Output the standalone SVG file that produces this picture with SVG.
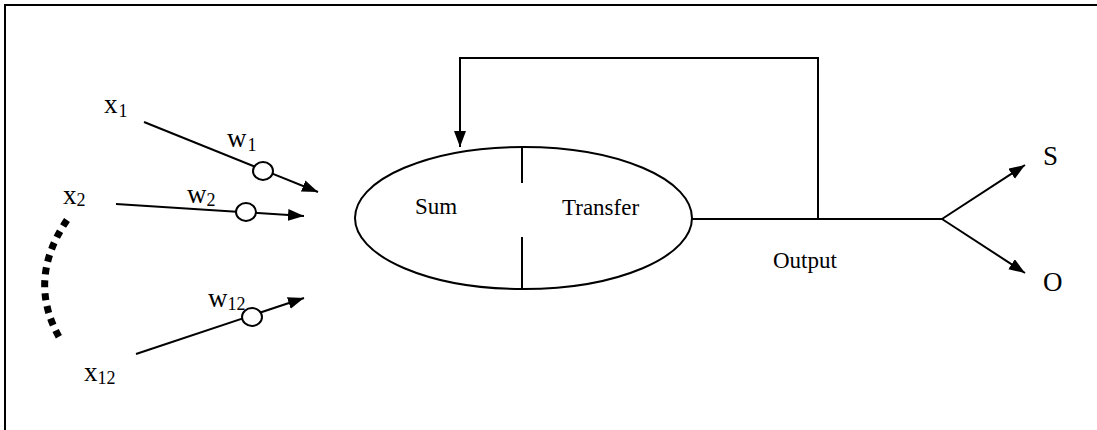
<svg xmlns="http://www.w3.org/2000/svg" width="1097" height="430" viewBox="0 0 1097 430">
<style>
.ln{fill:none;stroke:#000;stroke-width:2}
.t{font-family:"Liberation Serif","Times New Roman",serif;fill:#000}
.lab{font-size:27px}
.sub{font-size:18px}
.in{font-size:23px}
.big{font-size:27px}
.w{fill:#fff;stroke:#000;stroke-width:2}
</style>
<defs>
<marker id="ah" markerUnits="userSpaceOnUse" markerWidth="18" markerHeight="14" refX="16" refY="6" orient="auto">
<path d="M0,0 L16,6 L0,12 z" fill="#000"/>
</marker>
</defs>
<rect width="1097" height="430" fill="#fff"/>
<path class="ln" d="M5,430 V5 H1097"/>
<g id="connectors">
<line class="ln" x1="144" y1="122" x2="318" y2="192" marker-end="url(#ah)"/>
<line class="ln" x1="116" y1="204" x2="304" y2="216" marker-end="url(#ah)"/>
<line class="ln" x1="136" y1="354" x2="304" y2="298" marker-end="url(#ah)"/>
<path class="ln" d="M818,219 V58 H460 V147" marker-end="url(#ah)"/>
<path class="ln" d="M692,219 H942"/>
<line class="ln" x1="942" y1="219" x2="1025" y2="165" marker-end="url(#ah)"/>
<line class="ln" x1="942" y1="219" x2="1025" y2="273" marker-end="url(#ah)"/>
<path d="M67,220 Q25,282 62,342" fill="none" stroke="#000" stroke-width="7" stroke-dasharray="7 6"/>
</g>
<g id="weights">
<ellipse class="w" cx="263" cy="171" rx="10" ry="9"/>
<ellipse class="w" cx="246" cy="212" rx="10" ry="9"/>
<ellipse class="w" cx="252" cy="317" rx="10" ry="9"/>
</g>
<g id="inputs">
<text class="t lab" x="104" y="113">x<tspan class="sub" dx="1" dy="4">1</tspan></text>
<text class="t lab" x="63" y="204">x<tspan class="sub" dy="2">2</tspan></text>
<text class="t lab" x="84" y="381">x<tspan class="sub" dy="3">12</tspan></text>
<text class="t lab" x="227" y="147">w<tspan class="sub" dx="1" dy="4">1</tspan></text>
<text class="t lab" x="187" y="203">w<tspan class="sub" dy="3">2</tspan></text>
<text class="t lab" x="208" y="307">w<tspan class="sub" dy="3">12</tspan></text>
</g>
<g id="neuron">
<ellipse cx="523.5" cy="218" rx="168.5" ry="71" fill="none" stroke="#000" stroke-width="2"/>
<line class="ln" x1="522" y1="147" x2="522" y2="183"/>
<line class="ln" x1="522" y1="237" x2="522" y2="289"/>
<text class="t in" x="415" y="214">Sum</text>
<text class="t in" x="562" y="215">Transfer</text>
</g>
<g id="output">
<text class="t in" x="773" y="268">Output</text>
</g>
<g id="S"><text class="t big" x="1043" y="165">S</text></g>
<g id="O"><text class="t big" x="1043" y="291">O</text></g>
</svg>
